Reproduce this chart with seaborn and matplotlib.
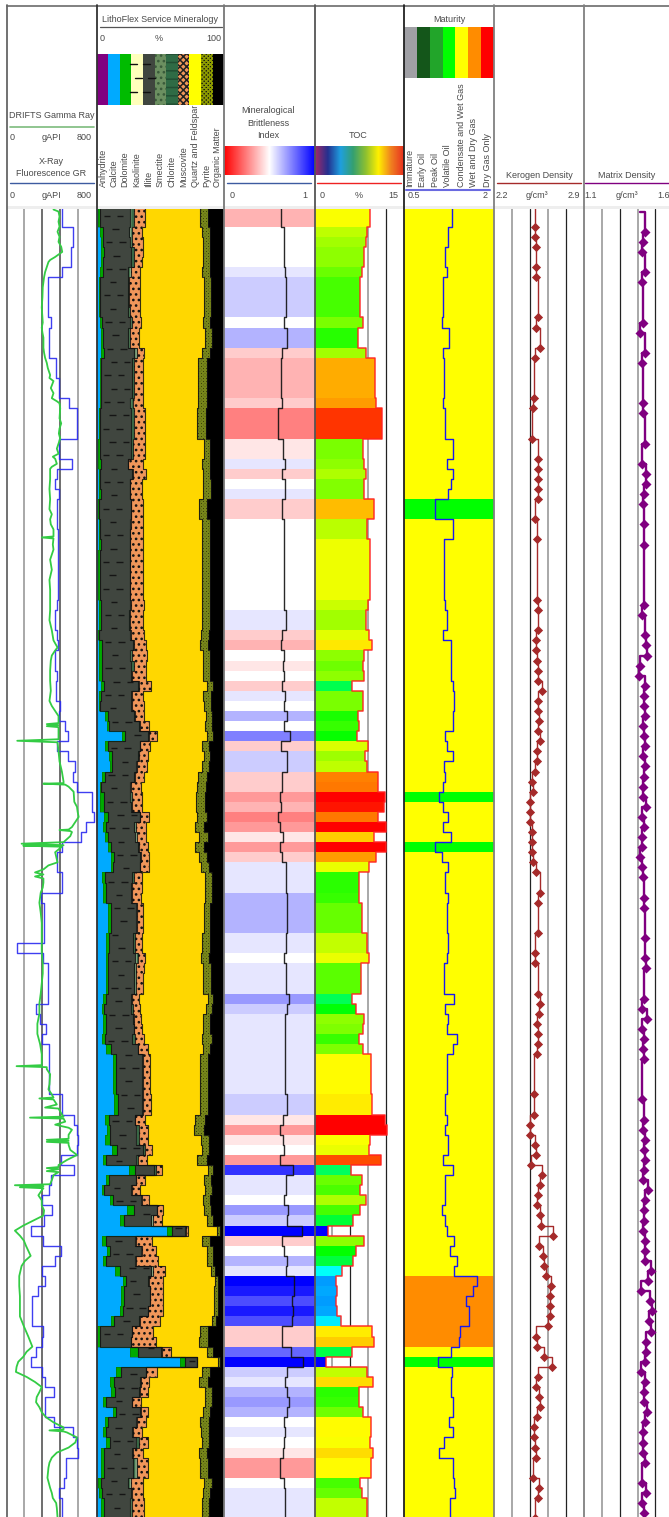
import numpy as np
import matplotlib
matplotlib.use("Agg")
import matplotlib.pyplot as plt
import seaborn as sns
from matplotlib.colors import LinearSegmentedColormap, Normalize
from matplotlib.patches import Rectangle

# Cumulative mineralogy per sample row, percent
calcite_cum = [1,1,3.1,3.9,3.9,3.6,2.6,2.3,2.3,2.3,
    2.3,2.6,3.4,3.4,3.9,2.6,2.6,2.6,2.6,2.6,
    2.1,2.1,2.1,1.3,1.3,1.3,2.1,2.1,1.8,1,
    1,1.6,1.6,2.1,1,1,1,1,1,2.3,
    2.1,2.1,1.3,1.8,2.3,2.3,2.3,3.4,1.8,1.8,
    6.8,8.1,20.3,6.8,10.1,10.7,4.4,2.6,2.6,2.6,
    5.7,5.2,6.8,8.8,11.7,11.2,4.7,5.2,5.2,8.8,
    8.8,8.8,7.8,7.8,7.8,7.3,7.3,7.3,4.9,4.4,
    4.9,4.9,4.2,7.3,12.7,12.7,12.7,12.7,13.8,13.8,
    6.5,8.1,6.5,12,5.2,25.7,7.8,4.4,10.4,24.2,
    18.2,55.1,4.7,8.1,4.9,14.6,20.5,19,19,18.2,
    11.2,.5,.5,26,65.8,15.3,10.7,11.4,4.9,12.7,
    6.8,4.9,7.5,3.9,3.9,3.9,1.3,1.8,3.6,3.6]
dolomite_cum = [3.1,3.1,4.9,4.9,5.7,5.2,4.9,3.1,3.1,3.1,
    3.1,4.4,4.9,4.9,5.7,3.6,3.6,3.6,3.6,3.4,
    2.6,2.6,2.6,2.6,2.6,3.6,3.1,3.1,3.9,2.3,
    2.3,3.1,3.1,3.4,2.6,2.6,2.6,2.6,2.6,3.6,
    3.9,3.9,2.3,4.2,4.7,4.4,4.4,5.7,3.9,3.1,
    9.1,9.6,22.1,8.8,12.5,12.5,6.8,3.6,5.7,5.7,
    8.8,7.3,9.4,11.4,13.5,13,6.5,7.8,7.8,11.2,
    11.2,11.2,9.6,9.6,9.4,9.1,9.1,9.1,7.3,6.2,
    7.3,7.3,6.5,11.2,15.1,15.1,15.1,15.1,16.6,16.6,
    9.9,10.4,10.4,15.9,7.8,29.9,9.9,6.2,13,29.1,
    21.3,59.3,7.3,10.4,7.8,18.2,23.4,21.3,21.3,20.8,
    13.5,3.1,3.1,32.5,69.7,19,13.8,14.3,7.8,15.1,
    9.4,7.3,10.7,6,6,6,3.6,4.7,6,6]
illite_cum = [26,26,25.5,26,27,27,24.7,24.7,24.7,24.7,
    24.7,26.3,24.4,24.4,29.1,27.8,27.8,27.8,27.8,26,
    27.3,27.3,27.3,26.8,26.8,24.4,28.1,26,26,26.8,
    26.8,26,26,26,26,26,26,26,26,26,
    25.5,25.5,26,28.3,26.5,27,27,32.8,27,27,
    29.6,33,40.3,33.8,32.8,31.2,29.6,26,26,27,
    33.8,29.6,30.4,32.2,34.3,33.8,27.8,27,27,30.9,
    30.9,30.9,28.3,28.3,30.2,29.4,29.4,29.4,27,27,
    28.6,29.1,28.1,32.2,35.6,35.6,35.6,35.6,35.6,35.6,
    29.9,31.2,31.2,36.4,30.9,45.2,30.9,27,34.8,47.3,
    42.6,69.4,30.4,34.8,30.2,42.4,40.6,41.9,41.9,40,
    33.3,27.6,27,50.4,78.5,38.5,34.1,33.5,27.6,34.3,
    31.2,27.8,31.2,27.6,28.6,28.6,24.4,27,26,26]
chlorite_cum = [29.1,29.1,27.6,28.1,29.6,29.1,27,25.2,25.2,25.2,
    26,28.1,26,26,31.7,29.6,29.6,29.6,29.6,28.3,
    29.6,29.6,29.6,28.6,28.6,25,28.6,26.5,26.5,27.3,
    27.3,27.3,26.5,26.5,26.5,26.5,26.5,26.5,26.5,27,
    26.5,26.5,27,29.1,27.8,29.1,27.8,33.3,27.6,27.6,
    30.2,33.8,40.8,34.3,33.3,31.7,30.2,27,27.8,28.1,
    34.3,31.2,31.7,33,34.8,34.3,29.1,27.8,27.8,31.5,
    31.5,31.5,30.4,30.4,32.2,30.7,30.9,30.9,28.1,28.6,
    29.6,29.6,29.9,32.8,36.1,36.1,36.1,36.1,36.1,36.1,
    30.4,33,33,37.7,32.2,46.3,31.2,27.6,35.4,47.8,
    44.2,69.9,31.2,35.4,30.7,44.2,40.8,42.1,42.1,40.6,
    33.8,27.8,27.3,51,78.5,38.7,34.6,34.1,28.1,34.8,
    32,28.6,33,28.6,31.7,31.7,27,27.6,27.6,27.6]
muscovite_cum = [38,38,35.6,36.1,36.1,35.6,33.8,34.3,33.8,33.8,
    33.8,34.8,33,33,37.2,36.4,36.4,36.4,36.4,36.1,
    37.7,37.7,37.7,37.7,37.7,36.1,38.5,35.9,35.9,36.1,
    36.1,36.4,36.1,36.1,36.1,36.1,36.1,36.1,36.1,37.4,
    36.4,36.4,36.9,38.5,39.5,39,38.5,42.6,36.4,36.9,
    37.4,41.3,47.3,41.6,40,39.5,37.4,34.8,35.9,35.9,
    41.1,39,39,40,41.1,41.1,35.4,35.4,34.8,36.4,
    36.4,36.4,35.9,35.9,37.7,36.9,36.4,36.4,33.5,33.8,
    34.8,35.9,36.9,40,41.6,41.6,41.6,41.6,42.6,42.6,
    37.7,40.3,40.3,43.4,39.3,51.7,37.7,34.3,41.3,52.5,
    51.2,72,43.9,46.5,48.1,53.6,52.5,52.5,52.5,52.5,
    49.7,44.7,46.3,58.8,78.5,47.3,41.1,40.3,34.6,40.6,
    38.7,35.6,40.3,36.4,40,40,36.4,36.4,37.2,37.2]
quartz_cum = [81.1,81.1,82.4,83.2,83.7,83.7,82.4,84.2,84.2,84.2,
    84.2,83.7,85.3,85.3,82.7,79.8,79.8,79.8,79.8,79.8,
    78.5,78.5,78.5,84,84,82.7,83.2,83.7,83.7,80.6,
    80.6,82.9,82.9,82.9,82.7,82.7,82.7,82.7,82.7,82.4,
    82.9,82.9,82.2,81.4,83.2,83.7,83.2,86.8,83.7,84.2,
    85.8,85.3,86.3,82.7,84.2,82.7,79.6,79,77.7,77.7,
    79,77,80.6,77,80.3,81.6,85.3,85.3,85.3,84,
    84,84,82.7,82.7,81.9,83.7,83.7,83.7,87.6,85.8,
    83.7,83.7,82.7,83.7,81.4,81.4,81.4,81.4,81.4,81.4,
    77.2,76.7,81.9,82.4,78.5,87.4,84,84.8,83.2,84.2,
    86.8,94.6,82.9,86.3,86.8,90,93.1,92,92,92,
    90.7,81.4,80.6,86.8,95.4,82.4,80.6,85.3,85,83.7,
    81.4,81.6,82.7,80.6,81.4,81.4,84.2,83.2,82.4,82.4]
pyrite_cum = [87.6,87.6,88.9,88.9,89.4,89.4,89.4,90,90,90,
    90,89.4,90.2,90.2,88.9,86.8,86.8,86.8,86.8,86.8,
    85.5,85.5,85.5,89.4,89.4,89.4,89.4,90,90,86.8,
    86.8,88.9,88.9,88.9,88.9,88.9,88.9,88.9,88.9,88.9,
    88.9,88.9,88.4,87.6,88.9,89.4,88.9,91.3,89.7,89.7,
    90.5,90.5,91,88.4,88.9,88.4,86.3,85.8,85,85,
    86.3,84.2,87.4,84.2,86.8,88.1,90.5,90.5,90.5,89.4,
    89.4,89.4,89.4,89.4,88.4,90,90,90,91.5,90.7,
    89.4,89.4,90.2,89.4,87.6,87.6,87.6,87.6,87.6,87.6,
    85,84.2,88.1,88.1,86.6,91.5,90,90.5,89.4,90,
    91.5,96.7,88.9,91,91.5,93.3,95.4,95.2,95.2,95.2,
    94.1,87.6,87.6,91.5,96.7,88.9,87.4,90.5,90.5,89.4,
    87.9,88.1,88.4,86.8,87.6,87.6,90.2,89.4,88.4,88.4]

brittleness = [.626,.626,.665,.665,.658,.658,.675,.687,.687,.687,
    .687,.658,.70,.70,.639,.626,.626,.626,.626,.639,
    .60,.60,.60,.65,.65,.675,.639,.668,.672,.639,
    .639,.66,.66,.66,.66,.66,.66,.66,.66,.66,
    .68,.68,.64,.626,.658,.65,.667,.645,.672,.658,
    .70,.66,.724,.634,.69,.69,.644,.644,.614,.63,
    .60,.614,.65,.622,.645,.68,.68,.68,.70,.70,
    .70,.70,.68,.68,.66,.68,.68,.68,.712,.69,
    .672,.672,.672,.675,.672,.672,.672,.672,.69,.69,
    .65,.622,.65,.66,.612,.76,.68,.68,.66,.71,
    .69,.859,.645,.66,.70,.68,.778,.77,.75,.765,
    .748,.64,.64,.736,.878,.69,.672,.70,.712,.70,
    .66,.675,.658,.65,.62,.62,.667,.672,.672,.672]

toc = [9.4,9.4,8.85,8.6,8.4,8.4,8.06,7.7,7.7,7.7,
    7.7,8.2,7.4,7.4,8.6,10.25,10.25,10.25,10.25,10.4,
    11.4,11.4,11.4,8.2,8.2,8.4,8.7,8.3,8.3,10.1,
    10.1,8.8,8.8,9.3,9.3,9.3,9.3,9.3,9.3,8.95,
    8.6,8.6,9.2,9.7,8.4,8.1,8.4,6.3,8.2,8.2,
    7.3,7.55,7.1,9.1,8.55,8.85,10.65,10.75,11.9,11.7,
    10.75,12,9.95,12,10.4,9.25,7.45,7.45,7.55,8,
    8,8,8.9,8.9,9.25,7.9,7.9,7.9,6.25,7,
    8.4,8.25,7.55,8.25,9.5,9.5,9.5,9.5,9.65,9.65,
    11.9,12.2,9.4,9.25,11.15,6.15,8.05,7.75,8.7,7.7,
    6.55,2.2,8.4,7.05,6.45,4.7,3.7,3.8,3.7,3.8,
    4.45,9.65,9.95,6.4,2,8.9,9.8,7.45,7.55,8.1,
    9.5,9.5,9.4,9.8,9.5,9.5,7.7,8,8.9,8.9]

maturity = [1.30,1.30,1.225,1.225,1.18,1.18,1.22,1.15,1.15,1.15,
    1.15,1.125,1.25,1.25,1.145,1.165,1.165,1.165,1.165,1.145,
    1.18,1.18,1.18,1.32,1.32,1.21,1.31,1.28,1.23,1.02,
    1.02,1.31,1.31,1.165,1.165,1.165,1.165,1.165,1.165,1.18,
    1.22,1.22,1.145,1.275,1.29,1.29,1.29,1.315,1.34,1.34,
    1.31,1.31,1.18,1.21,1.31,1.165,1.19,1.145,1.08,1.145,
    1.24,1.145,1.29,1.01,1.125,1.24,1.175,1.175,1.24,1.22,
    1.22,1.22,1.23,1.23,1.22,1.16,1.16,1.16,1.34,1.19,
    1.23,1.21,1.39,1.315,1.215,1.215,1.215,1.215,1.19,1.19,
    1.22,1.175,1.24,1.24,1.145,1.32,1.19,1.175,1.19,1.125,
    1.19,1.21,1.34,1.265,1.385,1.34,1.71,1.65,1.54,1.575,
    1.59,1.43,1.41,1.28,1.06,1.30,1.29,1.29,1.315,1.315,
    1.25,1.315,1.17,1.09,1.32,1.32,1.335,1.355,1.26,1.26]

xrf_gr = [496,496,591,591,576,576,496,367,367,367,
    367,394,382,382,382,442,442,469,469,561,
    627,627,627,469,469,588,448,436,466,454,
    454,454,463,463,463,463,463,463,463,454,
    433,433,454,463,433,433,454,442,442,481,
    472,525,549,454,546,615,591,627,761,761,
    779,707,666,493,454,454,499,499,310,337,
    337,337,337,96,328,367,367,367,367,263,
    299,355,319,382,376,376,376,376,499,499,
    600,633,639,633,490,600,400,382,313,403,
    337,215,328,490,436,313,340,284,224,224,
    224,328,313,263,215,313,346,427,343,343,
    427,591,630,639,534,534,516,466,496,496]

drifts_depth = [.3,.5,1,1.5,2,2.5,3,3.5,4,4.5,5,5.3,5.5,6,6.5,7,7.5,8,9,10,11,11.5,12,12.5,13,14,14.5,15,15.5,16,16.7,17,17.3,18,18.5,19,19.3,19.5,20,21,21.5,22,22.5,23,23.5,24,24.5,24.8,25,25.5,25.8,26,27,28,29,30,30.5,31,31.5,32,32.7,32.8,32.9,33.5,34,35,36,37,38,39,40,41,42,43,43.7,44,44.5,45,46,47,48,49,49.5,50,50.5,51.2,51.3,51.4,51.5,51.6,52,52.8,52.95,53.1,54,55,56,57,57.15,57.2,57.3,57.5,58,59,59.5,60,60.5,61,61.5,61.75,61.8,61.9,62,62.4,63,63.15,63.3,63.35,63.45,64,
    65,65.3,65.7,66,66.2,66.4,66.6,67,67.5,68,69,70,71,72,73,74,75,76,77,78,79,80,81,82,83,84,84.6,85.1,85.2,85.3,85.5,86,87,87.5,88,88.3,88.4,88.5,89,89.3,89.4,90,90.2,90.3,90.4,90.7,91,91.3,91.5,92,92.4,92.5,92.6,92.7,92.8,93,93.5,94,94.5,95,95.2,95.3,95.4,95.6,95.7,96,96.5,96.9,97,97.1,97.2,97.3,97.5,
    98,98.5,99,99.5,100,100.5,101,101.5,102,102.5,103,103.5,104,104.5,105,106,107,108,109,110,111,112,113,113.5,114,114.5,115,115.5,116,116.5,117,117.5,118,118.5,119,119.5,120,120.5,121,121.2,121.3,121.4,121.5,122,122.5,123,123.5,124,124.5,125,126,127,127.5,128,128.5,129,129.9]
drifts_gr = [420,465,474,465,474,456,474,465,489,498,435,390,375,360,345,336,330,324,321,315,321,324,315,321,330,330,336,345,360,369,390,384,420,396,420,405,450,474,480,474,489,474,468,480,465,450,465,414,435,450,405,390,390,384,390,384,405,390,396,420,420,315,420,414,420,390,405,384,390,390,390,384,405,420,456,435,405,396,390,390,396,384,405,435,465,465,360,465,360,465,465,465,96,456,465,474,495,510,510,330,525,555,600,606,630,636,645,615,585,555,474,570,585,570,510,135,510,150,495,435,
    456,375,330,255,330,255,330,330,324,306,294,306,315,315,315,315,324,324,315,306,294,294,276,276,300,315,315,315,90,360,360,390,384,375,405,420,294,420,450,345,465,495,510,210,510,525,435,555,585,555,555,360,555,360,555,555,570,630,540,465,465,360,465,360,465,420,405,390,75,330,120,330,315,
    285,315,315,336,330,240,150,75,120,156,174,195,216,165,135,114,114,120,120,120,156,195,231,180,150,105,90,84,180,255,315,294,270,264,294,315,354,420,510,510,384,510,540,630,615,555,450,405,384,375,366,390,405,414,444,450,456]

kerogen_row = [0,2,3,4,6,7,11,12,14,15,19,20,23,25,26,27,28,29,31,33,39,40,42,43,44,45,46,47,48,49,50,51,52,53,54,55,56,57,58,59,60,61,62,63,64,65,66,68,69,72,74,75,78,79,80,81,82,83,84,88,90,91,92,93,94,95,96,97,98,99,100,101,102,103,104,105,106,107,108,109,110,111,112,113,114,115,116,117,118,119,120,121,122,123,124,126,127,128,130]
kerogen_density = [2.515,2.517,2.517,2.525,2.53,2.53,2.546,2.53,2.556,2.523,2.515,2.507,2.494,2.543,2.546,2.546,2.546,2.546,2.523,2.536,2.536,2.541,2.546,2.53,2.525,2.536,2.543,2.543,2.577,2.546,2.546,2.554,2.546,2.556,2.536,2.536,2.523,2.494,2.507,2.484,2.484,2.484,2.497,2.494,2.494,2.507,2.525,2.556,2.543,2.546,2.523,2.523,2.543,2.556,2.554,2.533,2.546,2.541,2.536,2.515,2.512,2.484,2.484,2.517,2.525,2.486,2.575,2.556,2.541,2.533,2.556,2.567,2.658,2.551,2.585,2.593,2.603,2.648,2.635,2.637,2.637,2.624,2.53,2.536,2.588,2.655,2.546,2.525,2.554,2.556,2.536,2.515,2.515,2.523,2.525,2.507,2.549,2.541,2.523]
matrix_row = [0,2,3,4,6,7,11,12,14,15,19,20,23,25,26,27,28,29,31,33,39,40,42,43,44,45,46,47,48,49,50,51,52,53,54,55,56,57,58,59,60,61,62,63,64,65,66,68,69,72,74,75,78,79,80,81,82,83,84,88,90,91,92,93,94,95,96,97,98,99,100,101,102,103,104,105,106,107,108,109,110,111,112,113,114,115,116,117,118,119,120,121,122,123,124,126,127,128,129]
matrix_density = [1.414,1.442,1.433,1.427,1.442,1.427,1.431,1.412,1.440,1.427,1.433,1.433,1.444,1.425,1.448,1.448,1.436,1.431,1.435,1.438,1.438,1.425,1.440,1.448,1.451,1.412,1.410,1.440,1.438,1.436,1.440,1.431,1.435,1.440,1.431,1.444,1.435,1.433,1.431,1.446,1.423,1.435,1.425,1.425,1.416,1.425,1.433,1.435,1.438,1.442,1.442,1.446,1.436,1.425,1.455,1.427,1.438,1.431,1.435,1.427,1.436,1.433,1.444,1.435,1.440,1.436,1.431,1.459,1.440,1.435,1.438,1.431,1.440,1.440,1.440,1.477,1.457,1.420,1.468,1.481,1.464,1.476,1.446,1.450,1.444,1.422,1.444,1.436,1.436,1.451,1.444,1.433,1.431,1.433,1.440,1.423,1.450,1.423,1.438]

mineral_names = ["Anhydrite", "Calcite", "Dolomite", "Kaolinite", "Illite", "Smectite", "Chlorite",
                 "Muscovite", "Quartz and Feldspar", "Pyrite", "Organic Matter"]
maturity_names = ["Immature", "Early Oil", "Peak Oil", "Volatile Oil", "Condensate and Wet Gas",
                  "Wet and Dry Gas", "Dry Gas Only"]
maturity_colors = ["#A0A0A5", "#14561A", "#22A52A", "#00FF00", "#FFFF00", "#FF8C00", "#FF0000"]

sns.set_theme(style="white")
plt.rcParams["font.family"] = ["Liberation Sans", "DejaVu Sans"]
plt.rcParams["hatch.linewidth"] = 1.1

W, H = 669, 1517
TOP = 209
ROW_PX = 10.09
ROW_TOP = 206.5
n_rows = len(toc)
edges = np.arange(n_rows + 1)
mid = edges[:-1] + 0.5

fig = plt.figure(figsize=(W / 100, H / 100), dpi=100, facecolor="white")


def track(x0, x1, lim):
    ax = fig.add_axes([x0 / W, 0, (x1 - x0) / W, (H - TOP) / H])
    ax.set_xlim(*lim)
    ax.set_ylim((H - ROW_TOP) / ROW_PX, (TOP - ROW_TOP) / ROW_PX)
    return ax


def finish(ax, lim):
    ax.set_xlim(*lim)
    ax.set_ylim((H - ROW_TOP) / ROW_PX, (TOP - ROW_TOP) / ROW_PX)
    ax.set_xlabel("")
    ax.set_ylabel("")
    ax.set_xticks([])
    ax.set_yticks([])
    for s in ax.spines.values():
        s.set_visible(False)


def grid(ax, lim, colors, divisions=5):
    ticks = np.linspace(lim[0], lim[1], divisions + 1)[1:-1]
    for t, c in zip(ticks, colors):
        ax.axvline(t, color=c, lw=1.2 if c != "#222222" else 0.9, zorder=0.5)


def stepped(values, color, ax, lw=1.0, alpha=1.0, zorder=4):
    x = np.repeat(values, 2)
    y = np.repeat(edges, 2)[1:-1]
    sns.lineplot(x=x, y=y, orient="y", sort=False, estimator=None, errorbar=None,
                 color=color, lw=lw, alpha=alpha, ax=ax, legend=False, zorder=zorder)


def sample_curve(rows, values, color, ax, lw, offset, marker_size):
    rows = np.array(rows, dtype=float) + offset
    values = np.array(values)
    x = np.repeat(values, 2)[1:]
    y = np.repeat(rows, 2)[:-1]
    # x moves first, the value holds down to its own marker
    sns.lineplot(x=x, y=y, orient="y", sort=False, estimator=None, errorbar=None,
                 color=color, lw=lw, ax=ax, legend=False, zorder=3)
    sns.scatterplot(x=values[1:], y=rows[1:], marker="D", s=marker_size, color=color,
                    linewidth=0, ax=ax, legend=False, zorder=4)


# gamma ray track
lim_gr = (0, 800)
ax = track(6.5, 96, lim_gr)
grid(ax, lim_gr, ["#999999", "#555555", "#555555", "#999999"])
stepped(xrf_gr, "#2A2AF0", ax, lw=1.0, alpha=0.9)
sns.lineplot(x=drifts_gr, y=drifts_depth, orient="y", sort=False, estimator=None, errorbar=None,
             color="#33CC44", lw=1.3, ax=ax, legend=False, zorder=5)
finish(ax, lim_gr)

# mineralogy track
lim_min = (0, 100)
ax = track(96.5, 224, lim_min)
cums = [np.zeros(n_rows), calcite_cum, dolomite_cum, illite_cum, chlorite_cum,
        muscovite_cum, quartz_cum, pyrite_cum, np.full(n_rows, 100.0)]
cums = [np.array(c, dtype=float) for c in cums]
layers = [("#00AAFF", None, None), ("#00AA00", None, None), ("#40463F", None, None),
          ("#3A6B48", "#8FB08A", "|||"), ("#F0965A", "#111111", "..."), ("#FFD700", None, None),
          ("#0A0A00", "#77861A", "xxxxxxxxxx"), ("#000000", None, None)]
for i, (color, hatch_color, hatch) in enumerate(layers):
    ax.barh(mid, cums[i + 1] - cums[i], left=cums[i], height=1.0, color=color, linewidth=0,
            hatch=hatch, edgecolor=hatch_color if hatch_color else color, antialiased=False, zorder=1)
# shale dashes in the illite layer
dash_rows = np.arange(0.9, n_rows, 1.32)
for j, d in enumerate(dash_rows):
    i = min(int(d), n_rows - 1)
    start = cums[2][i] + 2.5 + (j % 2) * 5
    while start + 5 < cums[3][i] - 1:
        ax.hlines(d, start, start + 5, color="#151515", lw=1.0, zorder=2)
        start += 10.4
for c in cums[2:8]:
    stepped(c, "#111111", ax, lw=0.8, alpha=0.85, zorder=3)
stepped(cums[1], "#114411", ax, lw=0.4, alpha=0.6, zorder=3)
finish(ax, lim_min)

# brittleness track
lim_bi = (0, 1)
ax = track(224.3, 314.5, lim_bi)
bi_cmap = LinearSegmentedColormap.from_list("bi", ["#FF0000", "#FFFFFF", "#0000FF"], N=21)
sns.heatmap(np.array(brittleness).reshape(-1, 1), cmap=bi_cmap, vmin=0.541, vmax=0.785,
            cbar=False, xticklabels=False, yticklabels=False, ax=ax)
stepped(brittleness, "#111111", ax, lw=1.0, alpha=0.9)
finish(ax, lim_bi)

# TOC track
lim_toc = (0, 15)
ax = track(314.5, 403.5, lim_toc)
grid(ax, lim_toc, ["#999999", "#222222", "#999999", "#222222"])
toc_cmap = LinearSegmentedColormap.from_list(
    "toc", ["#0000FF", "#00FFFF", "#00FF00", "#FFFF00", "#FF0000"])
toc_norm = Normalize(2.2, 11.9)
ax.barh(mid, toc, height=1.0, color=toc_cmap(toc_norm(toc)), linewidth=0, antialiased=False, zorder=1)
stepped(toc, "#FF2020", ax, lw=1.1, alpha=0.9)
finish(ax, lim_toc)

# maturity track
lim_mat = (0.5, 2)
ax = track(404, 494, lim_mat)
mat = np.array(maturity)
mat_color = np.where(mat < 1.085, "#00FF00", np.where(mat < 1.40, "#FFFF00", "#FF8C00"))
ax.barh(mid, 1.5, left=0.5, height=1.0, color=list(mat_color), linewidth=0, antialiased=False, zorder=1)
stepped(mat, "#1818F0", ax, lw=1.0)
finish(ax, lim_mat)

# kerogen density track
lim_ker = (2.2, 2.9)
ax = track(494, 583.7, lim_ker)
grid(ax, lim_ker, ["#999999", "#222222", "#999999", "#222222"])
sample_curve(kerogen_row, kerogen_density, "#A52A2A", ax, 1.0, 0.0, 22)
finish(ax, lim_ker)

# matrix density track, runs off the right side of the picture
lim_gm = (1.1, 1.6)
ax = track(583.7, 673.4, lim_gm)
grid(ax, lim_gm, ["#999999", "#222222", "#999999", "#222222"])
sample_curve(matrix_row, matrix_density, "#800080", ax, 1.7, 0.5, 26)
finish(ax, lim_gm)

# header and frame, drawn in picture pixels
hd = fig.add_axes([0, 0, 1, 1], zorder=10)
hd.patch.set_alpha(0)
hd.axis("off")
hd.imshow(np.linspace(0, 1, 256).reshape(1, -1), extent=(224.3, 314.5, 175, 146), aspect="auto",
          cmap=LinearSegmentedColormap.from_list("g", ["#FF0000", "#FFFFFF", "#0000FF"]))
hd.imshow(np.linspace(0, 1, 256).reshape(1, -1), extent=(314.5, 403.5, 175, 146), aspect="auto",
          cmap=LinearSegmentedColormap.from_list(
              "t", ["#A02A6A", "#24308F", "#1F9FDF", "#35A070", "#8FC030", "#FFF000", "#F08020", "#E83020"]))
hd.set_xlim(0, W)
hd.set_ylim(H, 0)

hd.add_patch(Rectangle((7, 206), W - 7, 3, facecolor="#EEEEEE", edgecolor="none"))
hd.plot([6.5, W], [5.5, 5.5], color="#808080", lw=1.4)
frame = [(6.5, "#666666"), (96.5, "#333333"), (224.2, "#777777"), (314.5, "#555555"),
         (404, "#222222"), (494, "#808080"), (583.7, "#808080")]
for x, c in frame:
    hd.plot([x, x], [5, H], color=c, lw=1.3)


def label(x, y, s, **kw):
    kw.setdefault("ha", "center")
    kw.setdefault("va", "center")
    hd.text(x, y, s, fontsize=kw.pop("fontsize", 6.5), color="#4A4A4A", **kw)


def scale(y, items):
    for x, s in items:
        label(x, y, s)


label(159.5, 19, "LithoFlex Service Mineralogy")
hd.plot([100, 222], [27, 27], color="#555555", lw=0.9)
scale(38, [(102, "0"), (159, "%"), (214, "100")])

cell = (224.2 - 96.5) / 11
legend_style = [("#800080", None, None), ("#00AAFF", None, None), ("#00BB00", None, None),
                ("#FFFFBB", None, None), ("#40463F", None, None), ("#6B8F60", "#3A5A3A", "..."),
                ("#2F6B45", "#224F33", "--"), ("#F0965A", "#222222", "xxxxx"), ("#FFFF00", None, None),
                ("#111111", "#8C9A00", "xxxxxxxx"), ("#000000", None, None)]
mineral_x = [103, 114, 125, 137, 149, 160, 172, 184, 196, 207, 218]
for i, (c, ec, h) in enumerate(legend_style):
    hd.add_patch(Rectangle((96.5 + i * cell, 54), cell, 51, facecolor=c, linewidth=0,
                           edgecolor=ec if ec else c, hatch=h))
    label(mineral_x[i], 187, mineral_names[i], rotation=90, va="bottom")
for x0, y0 in [(130, 63.5), (135, 77.7), (130, 91.7), (143, 63.5), (148, 77.7), (143, 91.7)]:
    hd.plot([x0, x0 + 6.5], [y0, y0], color="#111111", lw=1.0)

label(52, 115, "DRIFTS Gamma Ray")
hd.plot([10, 94], [126.5, 126.5], color="#7DBB7D", lw=1.2)
scale(137, [(12, "0"), (51, "gAPI"), (84, "800")])
label(51, 161, "X-Ray")
label(51, 173, "Fluorescence GR")
hd.plot([10, 94], [183, 183], color="#3D5BA0", lw=1.0)
scale(195, [(12, "0"), (51, "gAPI"), (84, "800")])

label(268, 110, "Mineralogical")
label(268, 123, "Brittleness")
label(268, 135, "Index")
hd.plot([227, 311], [183, 183], color="#3D5BA0", lw=1.0)
scale(195, [(232, "0"), (305, "1")])

label(358, 135, "TOC")
hd.plot([317, 401], [183, 183], color="#EE2222", lw=1.0)
scale(195, [(322, "0"), (359, "%"), (393, "15")])

label(449, 19, "Maturity")
mat_cell = 90 / 7
maturity_x = [410, 422.7, 435, 448, 461, 473, 487]
for i, c in enumerate(maturity_colors):
    hd.add_patch(Rectangle((404 + i * mat_cell, 27), mat_cell, 51, facecolor=c, linewidth=0))
    label(maturity_x[i], 187, maturity_names[i], rotation=90, va="bottom")
hd.plot([406, 490], [189.5, 189.5], color="#6A6AE0", lw=1.5)
scale(195.5, [(414, "0.5"), (485, "2")])

label(539, 175, "Kerogen Density")
hd.plot([497, 581], [183, 183], color="#A52A2A", lw=1.0)
scale(195, [(502, "2.2"), (537, "g/cm³"), (574, "2.9")])

label(627, 175, "Matrix Density")
hd.plot([585, W], [183, 183], color="#800080", lw=1.0)
scale(195, [(591, "1.1"), (627, "g/cm³"), (664, "1.6")])

fig.savefig("out.png", dpi=100)
